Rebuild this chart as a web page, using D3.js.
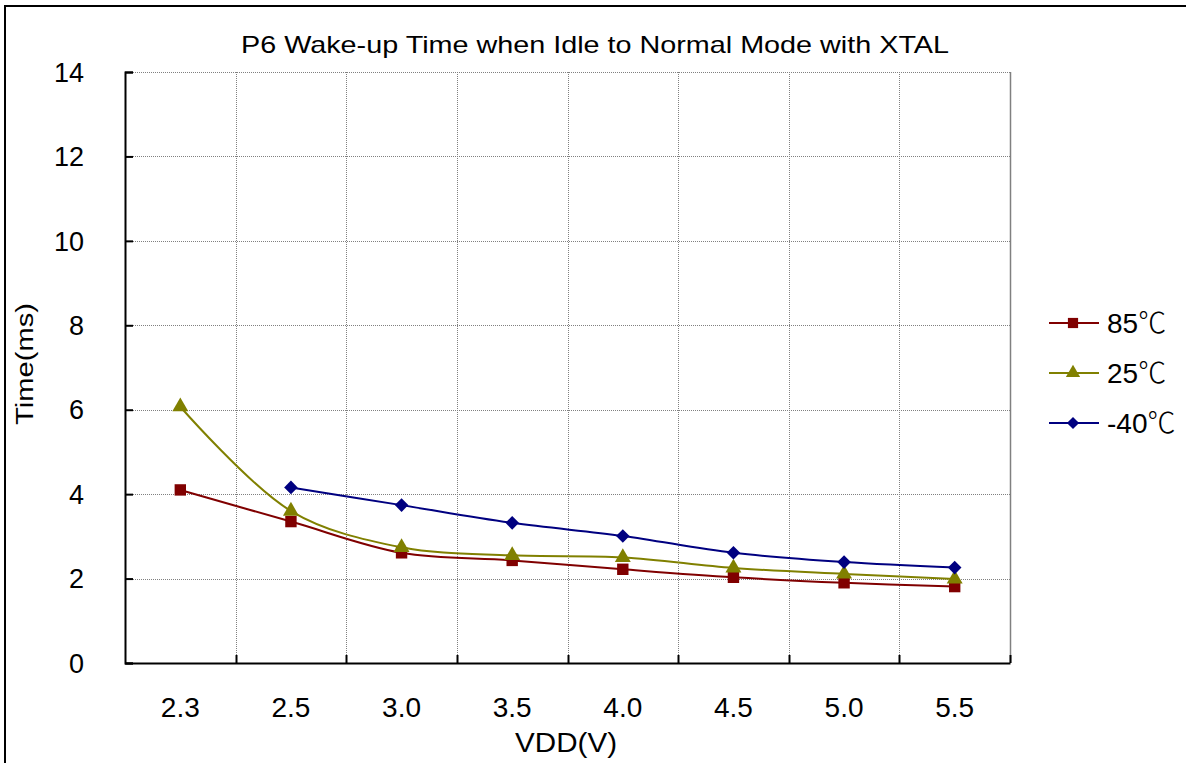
<!DOCTYPE html>
<html>
<head>
<meta charset="utf-8">
<script src="https://cdn.jsdelivr.net/npm/d3@7/dist/d3.min.js"></script>
<style>
  html, body { margin: 0; padding: 0; background: #fff; }
  svg { display: block; font-family: "Liberation Sans", Arial, sans-serif; }
</style>
</head>
<body>
<svg id="chart" width="1186" height="763"></svg>
<script>
// Supply voltages (categorical axis)
const categories = ["2.3", "2.5", "3.0", "3.5", "4.0", "4.5", "5.0", "5.5"];
// Wake-up time in ms per temperature; null = not measured
const t85  = [4.10, 3.35, 2.61, 2.43, 2.22, 2.03, 1.90, 1.81];
const t25  = [6.07, 3.60, 2.74, 2.55, 2.50, 2.25, 2.11, 1.99];
const tM40 = [null, 4.16, 3.74, 3.32, 3.01, 2.61, 2.39, 2.26];
const seriesTemps = ["85", "25", "-40"];
const yTicks = [0, 2, 4, 6, 8, 10, 12, 14];

const FONT = "'Liberation Sans', Arial, sans-serif";

const series = [
  { temp: seriesTemps[0], values: t85,  color: "#800000", marker: d3.symbolSquare,   size: 130, rotate: 0 },
  { temp: seriesTemps[1], values: t25,  color: "#808000", marker: d3.symbolTriangle, size: 110, rotate: 0 },
  { temp: seriesTemps[2], values: tM40, color: "#000080", marker: d3.symbolSquare,   size: 92,  rotate: 45 }
];

const svg = d3.select("#chart");
const plot = { left: 125, right: 1010, top: 72, bottom: 663 };

// Outer chart frame
svg.append("rect")
  .attr("x", 5).attr("y", 6)
  .attr("width", 1200).attr("height", 800)
  .attr("fill", "none").attr("stroke", "#000").attr("stroke-width", 2);

const x = d3.scaleBand().domain(categories).range([plot.left, plot.right]).paddingInner(0).paddingOuter(0);
const y = d3.scaleLinear().domain([0, 14]).range([plot.bottom, plot.top]);

// Horizontal grid lines
svg.append("g").selectAll("line")
  .data(yTicks.filter(v => v > 0))
  .join("line")
  .attr("x1", plot.left).attr("x2", plot.right)
  .attr("y1", d => Math.round(y(d)) + 0.5).attr("y2", d => Math.round(y(d)) + 0.5)
  .attr("stroke", "#808080").attr("stroke-width", 1).attr("stroke-dasharray", "1,1");

// Vertical grid lines at category boundaries
const bounds = categories.slice(1).map(c => x(c)).concat([plot.right]);
svg.append("g").selectAll("line")
  .data(bounds)
  .join("line")
  .attr("x1", d => Math.round(d) + 0.5).attr("x2", d => Math.round(d) + 0.5)
  .attr("y1", plot.top).attr("y2", plot.bottom)
  .attr("stroke", "#808080").attr("stroke-width", 1).attr("stroke-dasharray", "1,1");

// Right edge of plot area
svg.append("line")
  .attr("x1", plot.right + 0.5).attr("x2", plot.right + 0.5)
  .attr("y1", plot.top).attr("y2", plot.bottom)
  .attr("stroke", "#808080").attr("stroke-width", 1.5);

// Y axis with inward ticks
const yAxis = svg.append("g")
  .attr("transform", `translate(${plot.left},0)`)
  .call(d3.axisLeft(y).tickValues(yTicks).tickSize(-8).tickPadding(41).tickFormat(d3.format("d")));
yAxis.select(".domain").attr("stroke", "#000").attr("stroke-width", 2);
yAxis.selectAll(".tick line").attr("stroke", "#000").attr("stroke-width", 2);
yAxis.selectAll("text").attr("font-size", 27).attr("fill", "#000")
  .attr("font-family", FONT).attr("dy", "0.34em");

// X axis: line plus inward ticks at category boundaries
const xAxis = svg.append("g")
  .attr("transform", `translate(0,${plot.bottom})`)
  .call(d3.axisBottom(x).tickSize(0).tickPadding(0));
xAxis.select(".domain").attr("stroke", "#000").attr("stroke-width", 2);
xAxis.selectAll("text").attr("font-size", 28).attr("fill", "#000")
  .attr("font-family", FONT).attr("dy", null).attr("y", 54);
svg.append("g").selectAll("line")
  .data(bounds)
  .join("line")
  .attr("x1", d => Math.round(d) + 0.5).attr("x2", d => Math.round(d) + 0.5)
  .attr("y1", plot.bottom - 8).attr("y2", plot.bottom)
  .attr("stroke", "#000").attr("stroke-width", 2);

// Title and axis titles
svg.append("text")
  .attr("x", 241).attr("y", 53)
  .attr("font-size", 24)
  .attr("textLength", 708).attr("lengthAdjust", "spacingAndGlyphs")
  .text("P6 Wake-up Time when Idle to Normal Mode with XTAL");
svg.append("text")
  .attr("x", 515).attr("y", 752)
  .attr("font-size", 28)
  .attr("textLength", 102).attr("lengthAdjust", "spacingAndGlyphs")
  .text("VDD(V)");
svg.append("text")
  .attr("transform", "translate(33,425) rotate(-90)")
  .attr("font-size", 23)
  .attr("textLength", 122).attr("lengthAdjust", "spacingAndGlyphs")
  .text("Time(ms)");

// Series lines and markers
const cx = c => x(c) + x.bandwidth() / 2;
const line = d3.line()
  .defined(d => d.v != null)
  .x(d => cx(d.c)).y(d => y(d.v))
  .curve(d3.curveCatmullRom.alpha(0.5));

function markerPath(s, scale) {
  return d3.symbol(s.marker, s.size * scale)();
}

series.forEach(s => {
  const pts = categories.map((c, i) => ({ c, v: s.values[i] }));
  svg.append("path")
    .datum(pts)
    .attr("d", line)
    .attr("fill", "none").attr("stroke", s.color).attr("stroke-width", 2);
  svg.append("g").selectAll("path")
    .data(pts.filter(d => d.v != null))
    .join("path")
    .attr("transform", d => `translate(${cx(d.c)},${y(d.v)}) rotate(${s.rotate})`)
    .attr("d", markerPath(s, 1))
    .attr("fill", s.color);
});

// Legend
const legend = svg.append("g");
series.forEach((s, i) => {
  const ly = 323 + i * 50;
  legend.append("line")
    .attr("x1", 1049).attr("x2", 1099).attr("y1", ly).attr("y2", ly)
    .attr("stroke", s.color).attr("stroke-width", 2);
  legend.append("path")
    .attr("transform", `translate(1073,${ly}) rotate(${s.rotate})`)
    .attr("d", markerPath(s, 0.8))
    .attr("fill", s.color);
  const t = legend.append("text")
    .attr("x", 1107).attr("y", ly + 10)
    .attr("font-size", 28);
  t.append("tspan").text(s.temp);
  t.append("tspan").attr("font-family", "'Noto Sans CJK SC', sans-serif").attr("font-weight", 300).text("\u2103");
});
</script>
</body>
</html>
